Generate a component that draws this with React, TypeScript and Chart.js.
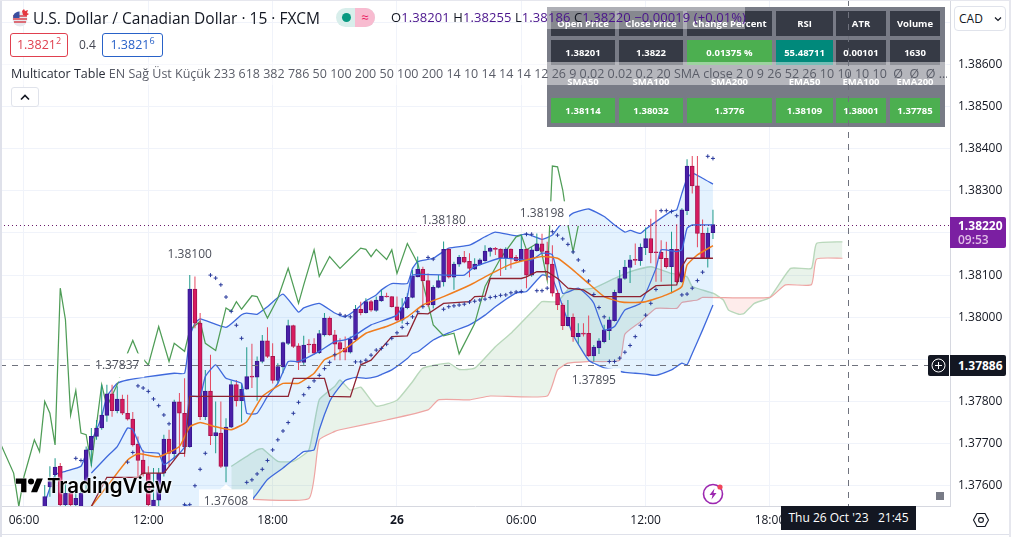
import React, { useEffect, useRef } from "react";
import { Chart, registerables } from "chart.js";

Chart.register(...registerables);

const FONT = '"Open Sans", "Noto Sans", sans-serif';

// All prices below are in 1e-5 units (137574 = 1.37574); bar 0 is 06:00, one bar is 15 minutes.
const firstCandleBar = 4;
const candleOpen = [137535,137597,137626,137646,137555,137582,137555,137550,137606,137685,137717,137737,137767,137818,137778,137806,137772,137758,137699,137661,137628,137535,137566,137630,137711,137676,137799,137772,137693,138067,137986,137764,137825,137719,137725,137646,137739,137840,137802,137829,137859,137858,137895,137944,137907,137850,137882,137938,137980,137932,137893,137936,137936,137916,137958,137998,137958,137940,137926,137917,137946,138019,138011,138037,138016,138039,138049,138049,138025,137993,138023,138047,138096,138114,138087,138029,138071,138084,138161,138095,138126,138142,138133,138114,138125,138134,138156,138162,138162,138141,138162,138142,138134,138161,138100,138158,138174,138157,138126,138057,138029,137980,138000,137954,137962,137962,137908,137927,137942,137968,137992,138058,138092,138118,138136,138134,138165,138187,138154,138154,138140,138120,138161,138084,138253,138359,138312,138199,138140,138201];
const candleClose = [137574,137610,137644,137555,137582,137555,137570,137582,137685,137717,137737,137768,137818,137778,137806,137772,137758,137697,137660,137628,137555,137566,137630,137711,137677,137799,137772,137693,138067,137986,137764,137825,137719,137726,137646,137739,137840,137802,137829,137859,137858,137896,137944,137907,137850,137883,137940,137980,137931,137893,137934,137934,137915,137961,137998,137958,137936,137924,137917,137948,138019,138011,138037,138017,138041,138050,138048,138025,137993,138023,138047,138098,138114,138087,138029,138071,138087,138161,138095,138126,138142,138131,138116,138126,138136,138157,138164,138161,138141,138162,138141,138134,138161,138100,138160,138174,138156,138126,138057,138029,137980,138000,137954,137962,137960,137908,137929,137944,137970,137994,138059,138092,138119,138136,138135,138166,138187,138153,138153,138139,138120,138161,138084,138255,138359,138312,138199,138140,138199,138220];
const candleHigh = [137602,137646,137665,137654,137606,137594,137595,137600,137693,137737,137756,137840,137840,137840,137836,137816,137816,137775,137717,137685,137646,137642,137642,137721,137733,137804,137820,137855,138100,138097,138010,137875,137911,137800,137800,137760,137850,137851,137843,137929,137937,137907,137958,137976,137938,137891,137942,137994,137982,137938,137956,137948,137950,137970,138010,138002,137970,137950,137954,137954,138029,138037,138045,138041,138049,138065,138058,138050,138049,138045,138057,138112,138144,138120,138104,138076,138100,138180,138163,138132,138148,138157,138152,138140,138140,138171,138167,138167,138163,138166,138163,138148,138195,138163,138167,138199,138198,138179,138171,138065,138033,138041,138009,137986,137986,138004,137934,137950,137982,138001,138065,138112,138136,138148,138175,138175,138213,138234,138255,138183,138179,138203,138221,138259,138375,138383,138383,138232,138213,138255];
const candleLow = [137535,137574,137606,137551,137548,137548,137545,137540,137590,137646,137709,137733,137752,137764,137772,137768,137755,137693,137622,137622,137551,137535,137551,137622,137646,137661,137677,137669,137690,137974,137756,137756,137697,137677,137642,137608,137737,137788,137750,137828,137832,137802,137891,137903,137843,137843,137867,137934,137927,137875,137887,137915,137911,137913,137954,137956,137898,137898,137898,137914,137942,138005,138009,138013,138013,138037,138047,138023,137990,137985,138019,138045,138095,138025,138025,138021,138069,138073,138092,138065,138120,138128,138095,138112,138122,138132,138144,138148,138098,138112,138116,138131,138132,138069,138096,138156,138152,138088,138049,138017,137970,137978,137942,137937,137954,137906,137895,137913,137938,137946,137990,138057,138089,138081,138124,138122,138148,138128,138084,138084,138116,138057,138081,138082,138243,138294,138166,138138,138118,138186];

const bbUpperBars = [4,6,8,11,12,14,15,16,18,20,24,29,31,32,33,34,39,42,43,45,47,50,53,54,57,60,62,64,66,68,69,71,74,75,76,79,82,86,89,91,95,97,100,102,104,106,109,112,114,116,117,119,120,122,125,126,127,128,129,131,133];
const bbUpperPrices = [137559,137626,137634,137646,137677,137733,137764,137812,137843,137851,137859,137867,137867,137954,137986,137996,137976,138006,138010,138007,138025,138055,138012,138022,138033,138010,138001,138017,138039,138053,138065,138080,138080,138116,138132,138140,138164,138171,138191,138202,138193,138198,138185,138195,138227,138247,138257,138239,138219,138202,138206,138199,138209,138227,138252,138255,138294,138330,138342,138330,138316];
const bbLowerBars = [4,8,14,16,20,24,29,31,32,33,34,39,42,43,45,47,50,53,54,56,57,59,60,62,64,66,68,69,71,74,75,76,79,82,86,89,91,95,97,100,102,104,106,109,112,114,116,118,120,122,125,126,127,128,129,131,133];
const bbLowerPrices = [137500,137480,137500,137520,137500,137500,137530,137553,137550,137530,137500,137480,137530,137550,137582,137615,137642,137672,137681,137685,137733,137800,137820,137850,137857,137855,137859,137864,137875,137902,137914,137918,137946,137963,137982,138005,138025,138058,138061,138100,138092,138025,137958,137898,137880,137875,137869,137867,137865,137862,137875,137883,137891,137887,137914,137970,138029];
const bbBasisBars = [13,16,18,20,21,23,26,27,30,31,32,34,35,37,39,42,43,45,47,49,51,53,57,60,62,64,67,72,74,75,82,85,87,92,98,100,102,104,107,109,110,112,114,116,119,122,123,126,127,128,129,133];
const bbBasisPrices = [137630,137669,137693,137737,137733,137681,137677,137650,137677,137693,137812,137812,137859,137887,137855,137843,137772,137772,137812,137843,137895,137895,137919,137942,137946,137958,137982,138005,138049,138100,138100,138100,138120,138140,138136,138152,138148,138057,138069,138049,138033,137970,137978,138017,138033,138116,138160,138156,138160,138211,138219,138219];

const emaBars = [13,17,20,22,26,30,32,34,37,40,43,46,50,53,56,58,61,63,66,70,74,77,81,86,89,94,100,103,106,109,112,115,117,120,124,127,128,130,133];
const emaPrices = [137551,137614,137661,137676,137669,137693,137740,137750,137740,137733,137752,137812,137843,137843,137867,137899,137916,137934,137962,137978,138001,138029,138049,138076,138096,138126,138144,138140,138112,138080,138049,138037,138035,138037,138053,138073,138124,138148,138170];

const kijunBars = [13,16,22,23,27,30,31,32,51,52,58,59,63,65,67,69,71,74,76,78,81,86,87,89,90,96,97,99,101,103,105,108,110,119,122,126,127,128,133];
const kijunPrices = [137551,137620,137620,137630,137630,137677,137677,137812,137812,137855,137855,137812,137811,137887,137898,137926,137954,137956,138009,138008,138033,138037,138049,138050,138092,138092,138096,138108,138108,138092,138069,138065,138049,138049,138075,138077,138120,138140,138140];

const kumoTopBars = [40,45,46,49,52,55,57,60,61,63,65,68,72,75,77,82,84,87,91,94,99,100,103,105,106,110,114,117,121,125,128,129,133,135,136,138,139,141,144,148,152,153,158];
const kumoTopPrices = [137646,137685,137688,137658,137658,137685,137804,137836,137851,137827,137834,137789,137803,137847,137879,137891,137876,137879,137930,137962,138025,138037,138037,138065,138065,138069,138092,138108,138120,138104,138096,138073,138057,138041,138017,138007,138009,138033,138047,138116,138116,138175,138179];
const kumoBottomBars = [40,55,57,60,61,70,78,80,86,90,101,103,105,109,115,116,119,122,126,127,130,131,144,147,152,153,158];
const kumoBottomPrices = [137570,137570,137709,137729,137733,137756,137780,137804,137804,137813,137813,137875,137891,137895,137898,137960,137989,138021,138021,138035,138041,138047,138047,138077,138077,138138,138140];

const laggingBars = [-5,-2,-1,0,2,3,4,5,6,7,8,9,10,11,12,13,15,16,18,20,21,22,24,26,28,29,31,32,34,35,37,39,40,41,42,44,45,47,49,51,53,54,56,57,59,61,63,65,66,67,68,70,71,72,74,76,78,79,81,83,84,87,89,92,95,96,97,99,100,101,102,103,104,105,106,107];
const laggingPrices = [137713,137630,137551,137622,137709,137681,137800,137772,137697,138069,137994,137768,137826,137725,137721,137650,137840,137788,137840,137915,137945,137915,137887,137978,137895,137938,137919,137970,137990,137938,137921,138022,138014,138037,138019,138051,138049,137998,138045,138116,138033,138077,138160,138097,138144,138116,138140,138164,138161,138144,138161,138137,138160,138104,138175,138128,138033,137982,137956,137962,137913,137985,138073,138140,138191,138195,138160,138175,138150,138088,138359,138357,138302,138219,138156,138217];

const sarBars = [10,11,20,21,22,23,24,25,26,27,28,31,32,33,34,35,36,37,38,39,40,41,42,43,44,45,46,47,48,49,50,51,52,53,54,55,56,57,58,59,60,61,62,63,64,65,66,67,68,69,70,71,72,73,74,75,76,77,78,79,81,82,83,84,85,86,87,88,89,90,91,92,93,94,95,96,97,98,99,100,101,102,103,104,105,106,107,108,109,110,111,112,113,114,115,116,117,118,119,120,121,122,123,124,125,126,127,128,129,130,131,132,133];
const sarPrices = [137665,137660,137656,137679,137837,137832,137824,137806,137790,137768,137747,137555,137555,137600,137639,137677,138100,138093,138077,138048,138014,137981,137950,137608,137614,137628,137639,137660,137685,137709,137730,137750,137772,137798,137816,137833,137849,137862,137878,137893,137911,138007,138003,138001,137894,137894,137898,137910,137922,137926,137936,137950,137963,137976,137985,138001,138013,138025,138142,138138,138019,138025,138027,138029,138031,138036,138038,138041,138043,138047,138049,138052,138053,138058,138060,138061,138197,138197,138063,138063,138069,138203,138195,138186,138173,138155,138136,138110,138086,138054,138023,138001,137895,137895,137903,137917,137933,137954,137981,138005,138033,138066,138253,138253,138251,138241,138053,138055,138069,138087,138107,138382,138377];

const labelBars = [18, 32, 81, 100, 39, 110];
const labelPrices = [137837, 138100, 138180, 138198, 137608, 137895];
const labelAbove = [true, true, true, true, false, false];

const priceTicks = [1.376,1.377,1.378,1.379,1.38,1.381,1.382,1.383,1.384,1.385,1.386,1.387];
const priceTicksUnlabelled = [1.379,1.382,1.387];
const timeTickBars = [0,24,48,72,96,120,144];
const timeTickLabels = ["06:00","12:00","18:00","26","06:00","12:00","18:00"];
const lastPrice = 1.3822;
const crosshairPrice = 1.37886;
const crosshairBar = 159;

const tableHead1 = ["Open Price","Close Price","Change Percent","RSI","ATR","Volume"];
const tableRow1 = ["1.38201","1.3822","0.01375 %","55.48711","0.00101","1630"];
const tableHead2 = ["SMA50","SMA100","SMA200","EMA50","EMA100","EMA200"];
const tableRow2 = ["1.38114","1.38032","1.3776","1.38109","1.38001","1.37785"];

const P = (v: number) => v / 100000;
const series = (bars: number[], prices: number[]) => bars.map((x, i) => ({ x, y: P(prices[i]) }));

const overlayPlugin = {
  id: "overlay",
  afterDatasetsDraw(chart: any) {
    const { ctx, scales, chartArea } = chart;
    const { x, y } = scales;
    ctx.save();
    ctx.beginPath();
    ctx.rect(chartArea.left, chartArea.top, chartArea.right - chartArea.left, chartArea.bottom - chartArea.top);
    ctx.clip();
    ctx.font = `12px ${FONT}`;
    ctx.textAlign = "center";
    ctx.textBaseline = "middle";
    labelBars.forEach((bar, i) => {
      const px = x.getPixelForValue(bar);
      const py = y.getPixelForValue(P(labelPrices[i]));
      const cy = labelAbove[i] ? py - 20.5 : py + 19;
      ctx.fillStyle = "#ffffff";
      ctx.fillRect(px - 27, cy - 12, 54, 24);
      ctx.beginPath();
      const edge = labelAbove[i] ? cy + 12 : cy - 12;
      const tip = labelAbove[i] ? cy + 17 : cy - 17;
      ctx.moveTo(px - 6, edge);
      ctx.lineTo(px, tip);
      ctx.lineTo(px + 6, edge);
      ctx.fill();
      ctx.fillStyle = "#4c4f5a";
      ctx.fillText(P(labelPrices[i]).toFixed(5), px, cy);
    });
    const ly = Math.round(y.getPixelForValue(lastPrice)) + 0.5;
    ctx.setLineDash([1, 3]);
    ctx.strokeStyle = "#6a1b6a";
    ctx.lineWidth = 1;
    ctx.beginPath();
    ctx.moveTo(chartArea.left, ly);
    ctx.lineTo(chartArea.right, ly);
    ctx.stroke();
    const cy = Math.round(y.getPixelForValue(crosshairPrice)) + 0.5;
    const cx = Math.round(x.getPixelForValue(crosshairBar)) + 0.5;
    ctx.setLineDash([6, 6]);
    ctx.strokeStyle = "#6f727d";
    ctx.beginPath();
    ctx.moveTo(chartArea.left, cy);
    ctx.lineTo(928, cy);
    ctx.moveTo(cx, chartArea.top);
    ctx.lineTo(cx, chartArea.bottom);
    ctx.stroke();
    ctx.restore();
  },
};

const abs = (left: number, top: number, extra: React.CSSProperties = {}): React.CSSProperties => ({
  position: "absolute",
  left,
  top,
  ...extra,
});

const colX = [551, 619, 687, 776, 836, 890];
const colW = [64, 64, 85, 57, 50, 50];

function TableRow({ top, cells, bg }: { top: number; cells: string[]; bg: (i: number) => string }) {
  return (
    <>
      {cells.map((c, i) => (
        <div
          key={c + i}
          style={abs(colX[i], top, {
            width: colW[i],
            height: 25,
            lineHeight: "25px",
            background: bg(i),
            color: "#fff",
            fontSize: 9.5,
            fontWeight: 700,
            textAlign: "center",
            whiteSpace: "nowrap",
          })}
        >
          {c}
        </div>
      ))}
    </>
  );
}

export default function App() {
  const ref = useRef<HTMLCanvasElement>(null);

  useEffect(() => {
    const bars = candleOpen.map((_, i) => firstCandleBar + i);
    const isUp = (i: number) => candleClose[i] >= candleOpen[i];
    const line = (label: string, data: any[], color: string, width: number, order: number, extra: any = {}) => ({
      type: "line",
      label,
      data,
      borderColor: color,
      borderWidth: width,
      pointRadius: 0,
      tension: 0.15,
      fill: false,
      order,
      ...extra,
    });
    const chart = new Chart(ref.current as HTMLCanvasElement, {
      type: "bar",
      data: {
        datasets: [
          line("BB lower", series(bbLowerBars, bbLowerPrices), "#3f69dc", 1.3, 8),
          line("BB upper", series(bbUpperBars, bbUpperPrices), "#3f69dc", 1.3, 9, {
            fill: { target: 0, above: "rgba(33,150,243,0.12)", below: "rgba(33,150,243,0.12)" },
          }),
          line("Kumo bottom", series(kumoBottomBars, kumoBottomPrices), "#eea5a3", 1.2, 10),
          line("Kumo top", series(kumoTopBars, kumoTopPrices), "#b9d8bb", 1.4, 11, {
            fill: { target: 2, above: "rgba(76,160,80,0.12)", below: "rgba(244,67,54,0.10)" },
          }),
          line("Lagging", series(laggingBars, laggingPrices), "#4f9d57", 1.25, 7, { tension: 0 }),
          {
            type: "bar",
            label: "Wicks",
            data: bars.map((x, i) => ({ x, y: [P(candleLow[i]), P(candleHigh[i])] })),
            barThickness: 1,
            grouped: false,
            inflateAmount: 0,
            backgroundColor: bars.map((_, i) => (isUp(i) ? "#1f9a8a" : "#e5485f")),
            order: 6,
          },
          {
            type: "bar",
            label: "Bodies",
            data: bars.map((x, i) => ({ x, y: [P(candleOpen[i]), P(candleClose[i])] })),
            barThickness: 4,
            grouped: false,
            minBarLength: 1,
            borderWidth: 1,
            borderSkipped: false,
            borderColor: bars.map((_, i) => (isUp(i) ? "#38188f" : "#a3154e")),
            backgroundColor: bars.map((_, i) => (isUp(i) ? "#4a1fa8" : "#d81b60")),
            order: 5,
          },
          line("BB basis", series(bbBasisBars, bbBasisPrices), "#3f69dc", 1.3, 4),
          line("EMA", series(emaBars, emaPrices), "#f07d1e", 1.5, 3),
          line("Kijun", series(kijunBars, kijunPrices), "#8e2231", 1.3, 2, { tension: 0 }),
          {
            type: "scatter",
            label: "SAR",
            data: series(sarBars, sarPrices),
            pointStyle: "cross",
            pointRadius: 2,
            pointBorderColor: "#2a3a9c",
            pointBorderWidth: 1,
            showLine: false,
            order: 1,
          },
        ] as any,
      },
      options: {
        responsive: false,
        animation: false,
        events: [],
        layout: { padding: 0, autoPadding: false },
        plugins: { legend: { display: false }, tooltip: { enabled: false } },
        scales: {
          x: {
            type: "linear",
            offset: false,
            min: -4.633,
            max: 178.76,
            afterBuildTicks: (a: any) => {
              a.ticks = timeTickBars.map((value) => ({ value }));
            },
            afterFit: (a: any) => {
              a.height = 31;
              a.paddingLeft = 0;
              a.paddingRight = 0;
            },
            grid: { color: "#f0f3fa", drawTicks: false, offset: false },
            border: { color: "#d6d8e0" },
            ticks: {
              autoSkip: false,
              maxRotation: 0,
              padding: 7,
              color: "#131722",
              font: (c: any) => ({
                family: FONT,
                size: 12,
                weight: c.tick && timeTickLabels[timeTickBars.indexOf(c.tick.value)] === "26" ? "bold" : "normal",
              }),
              callback: (v: any) => timeTickLabels[timeTickBars.indexOf(v)] ?? "",
            },
          },
          y: {
            type: "linear",
            position: "right",
            min: 1.375519,
            max: 1.387531,
            afterBuildTicks: (a: any) => {
              a.ticks = priceTicks.map((value) => ({ value }));
            },
            afterFit: (a: any) => {
              a.width = 61;
              a.paddingTop = 0;
              a.paddingBottom = 0;
            },
            grid: { color: "#f0f3fa", drawTicks: false },
            border: { color: "#d6d8e0" },
            ticks: {
              padding: 8,
              color: "#131722",
              font: { family: FONT, size: 12 },
              callback: (v: any) => (priceTicksUnlabelled.includes(Number(v)) ? "" : Number(v).toFixed(5)),
            },
          },
        },
      } as any,
      plugins: [overlayPlugin as any],
    });
    return () => chart.destroy();
  }, []);

  const purple = "#4a148c";
  return (
    <div
      style={{
        position: "fixed",
        left: 0,
        top: 0,
        width: 1011,
        height: 537,
        overflow: "hidden",
        background: "#fff",
        fontFamily: FONT,
        color: "#131722",
      }}
    >
      <canvas ref={ref} width={1011} height={537} style={{ position: "absolute", left: 0, top: 0, display: "block" }} />

      {/* indicator table */}
      <div style={abs(547, 7, { width: 398, height: 120, background: "#787b86" })} />
      <TableRow top={11} cells={tableHead1} bg={() => "#363a45"} />
      <TableRow top={40} cells={tableRow1} bg={(i) => (i === 2 ? "#4caf50" : i === 3 ? "#00897b" : "#363a45")} />
      <TableRow top={69} cells={tableHead2} bg={() => "transparent"} />
      <TableRow top={98} cells={tableRow2} bg={() => "#4caf50"} />
      <div style={abs(545, 7, { width: 200, height: 22, background: "rgba(255,255,255,0.4)" })} />
      <div style={abs(0, 62, { width: 947, height: 23, background: "rgba(255,255,255,0.45)" })} />
      <div
        style={abs(848, 0, {
          width: 1,
          height: 127,
          background: "repeating-linear-gradient(#6f727d 0 6px, transparent 6px 12px)",
        })}
      />

      {/* legend */}
      <svg style={abs(11, 8)} width={20} height={19} viewBox="0 0 20 19">
        <circle cx="9" cy="11" r="7.5" fill="#e8e8ee" />
        <path d="M2 8h14M2 11h14M3 14h12" stroke="#d8434f" strokeWidth="1.4" />
        <path d="M2.5 7a7 7 0 0 1 6-3.5V10h-6.4z" fill="#3a4fa0" />
        <path d="M11 3l2-2 1 2 3-1-1 3 2 1-3 2-3-1z" fill="#e5373f" />
      </svg>
      <div style={abs(33, 8, { fontSize: 15.5, lineHeight: "20px", whiteSpace: "nowrap" })}>
        U.S. Dollar / Canadian Dollar · 15 · FXCM
      </div>
      <div style={abs(336, 8, { width: 39, height: 19, borderRadius: 10, background: "#d8eeeb", overflow: "hidden" })}>
        <div style={abs(6, 5, { width: 9, height: 9, borderRadius: 5, background: "#089981" })} />
        <div
          style={abs(19, 0, {
            width: 20,
            height: 19,
            background: "#f8bbd0",
            color: "#e91e63",
            fontSize: 13,
            lineHeight: "18px",
            textAlign: "center",
          })}
        >
          ≈
        </div>
      </div>
      <div style={abs(391, 8, { fontSize: 13, letterSpacing: 0.08, lineHeight: "18px", whiteSpace: "nowrap", color: "#131722" })}>
        O<span style={{ color: purple }}>1.38201</span>{" "}
        H<span style={{ color: purple }}>1.38255</span>{" "}
        L<span style={{ color: purple }}>1.38186</span>{" "}
        C<span style={{ color: purple }}>1.38220</span>{" "}
        <span style={{ color: purple }}>−0.00019 (+0.01%)</span>
      </div>
      <div
        style={abs(10, 33, {
          width: 58,
          height: 24,
          boxSizing: "border-box",
          border: "1px solid #e0404f",
          borderRadius: 3,
          color: "#e0404f",
          fontSize: 12.5,
          lineHeight: "22px",
          textAlign: "center",
          background: "#fff",
        })}
      >
        1.3821<sup style={{ fontSize: 9, lineHeight: 0 }}>2</sup>
      </div>
      <div style={abs(79, 37, { fontSize: 12, lineHeight: "16px", color: "#434651" })}>0.4</div>
      <div
        style={abs(102, 33, {
          width: 61,
          height: 24,
          boxSizing: "border-box",
          border: "1px solid #2962c8",
          borderRadius: 3,
          color: "#2962c8",
          fontSize: 12.5,
          lineHeight: "22px",
          textAlign: "center",
          background: "#fff",
        })}
      >
        1.3821<sup style={{ fontSize: 9, lineHeight: 0 }}>6</sup>
      </div>
      <div style={abs(11, 65, { fontSize: 12.5, lineHeight: "18px", whiteSpace: "nowrap", color: "#5a5d68", width: 936, overflow: "hidden" })}>
        <span style={{ color: "#2a2e39" }}>Multicator Table</span> EN Sağ Üst Küçük 233 618 382 786 50 100 200 50 100 200 14 10 14 14 14 12 26 9 0.02 0.02 0.2 20 SMA close 2 0 9 26 52 26 10 10 10 10 &nbsp;Ø &nbsp;Ø &nbsp;Ø ...
      </div>
      <div
        style={abs(11, 87, {
          width: 28,
          height: 20,
          boxSizing: "border-box",
          border: "1px solid #e0e3eb",
          borderRadius: 3,
          background: "#fff",
        })}
      >
        <svg style={abs(8, 6)} width={10} height={7} viewBox="0 0 10 7">
          <path d="M1 5.5l4-4 4 4" fill="none" stroke="#131722" strokeWidth="1.6" />
        </svg>
      </div>

      {/* CAD selector */}
      <div
        style={abs(954, 6, {
          width: 52,
          height: 25,
          boxSizing: "border-box",
          border: "1px solid #e0e3eb",
          borderRadius: 4,
          background: "#fff",
          fontSize: 12,
          lineHeight: "23px",
          paddingLeft: 4,
        })}
      >
        CAD
        <svg style={abs(39, 9)} width={8} height={6} viewBox="0 0 8 6">
          <path d="M1 1.5l3 3 3-3" fill="none" stroke="#131722" strokeWidth="1.2" />
        </svg>
      </div>

      {/* price tags */}
      <div
        style={abs(950, 217, {
          width: 56,
          height: 31,
          background: "#7b1fa2",
          borderRadius: "0 2px 2px 0",
          color: "#fff",
          fontSize: 12,
          fontWeight: 700,
          lineHeight: "14px",
          paddingLeft: 8,
          paddingTop: 2,
          boxSizing: "border-box",
        })}
      >
        1.38220
        <div style={{ color: "#e1bee7", fontWeight: 600 }}>09:53</div>
      </div>
      <div style={abs(928, 355, { width: 21, height: 21, background: "#131722", borderRadius: "2px 0 0 2px" })}>
        <svg width={21} height={21} viewBox="0 0 21 21">
          <circle cx="10.5" cy="10.5" r="6.5" fill="none" stroke="#fff" strokeWidth="1" />
          <path d="M10.5 7v7M7 10.5h7" stroke="#fff" strokeWidth="1" />
        </svg>
      </div>
      <div
        style={abs(950, 355, {
          width: 56,
          height: 21,
          background: "#131722",
          borderRadius: "0 2px 2px 0",
          color: "#fff",
          fontSize: 12,
          fontWeight: 700,
          lineHeight: "21px",
          paddingLeft: 8,
          boxSizing: "border-box",
        })}
      >
        1.37886
      </div>
      <div
        style={abs(781, 506, {
          width: 135,
          height: 24,
          background: "#131722",
          color: "#fff",
          fontSize: 12,
          lineHeight: "24px",
          textAlign: "center",
          whiteSpace: "pre",
        })}
      >
        {"Thu 26 Oct '23   21:45"}
      </div>

      {/* watermark and widgets */}
      <svg style={abs(14, 477)} width={31} height={16} viewBox="0 2 36 21">
        <path d="M14 22H7V11H0V4h14v18zM28 22h-8l7.5-18h8L28 22z" fill="#000" stroke="#fff" strokeWidth="1" paintOrder="stroke" />
        <circle cx="20" cy="8" r="4" fill="#000" />
      </svg>
      <div
        style={abs(47, 473, {
          fontFamily: "Inter, sans-serif",
          fontSize: 20.5,
          fontWeight: 600,
          lineHeight: "26px",
          color: "#000",
          textShadow: "0 0 2px #fff, 0 0 2px #fff, 0 0 3px #fff",
          whiteSpace: "nowrap",
        })}
      >
        TradingView
      </div>
      <svg style={abs(702, 482)} width={24} height={24} viewBox="0 0 24 24">
        <circle cx="11" cy="12" r="9.5" fill="#fff" stroke="#9c27b0" strokeWidth="1.6" />
        <path d="M12.5 6.5L7.5 13h3l-1 4.5 5-6.5h-3z" fill="#9c27b0" />
        <circle cx="18" cy="5" r="2.6" fill="#f0455a" />
      </svg>
      <div style={abs(936, 492, { width: 8, height: 8, background: "#787b86" })} />
      <svg style={abs(972, 511)} width={18} height={18} viewBox="0 0 18 18">
        <path d="M5 2.5h8L16.5 9 13 15.5H5L1.5 9z" fill="none" stroke="#131722" strokeWidth="1.1" />
        <circle cx="9" cy="9" r="2.4" fill="none" stroke="#131722" strokeWidth="1.1" />
      </svg>

      {/* window frame */}
      <div style={abs(0, 0, { width: 2, height: 537, background: "#dfe1ea" })} />
      <div style={abs(0, 0, { width: 1011, height: 1, background: "#e6e7ee" })} />
      <div style={abs(0, 534, { width: 1011, height: 1, background: "#dfe1ea" })} />
      <div style={abs(1009, 0, { width: 2, height: 537, background: "#e6e7ee" })} />
    </div>
  );
}
